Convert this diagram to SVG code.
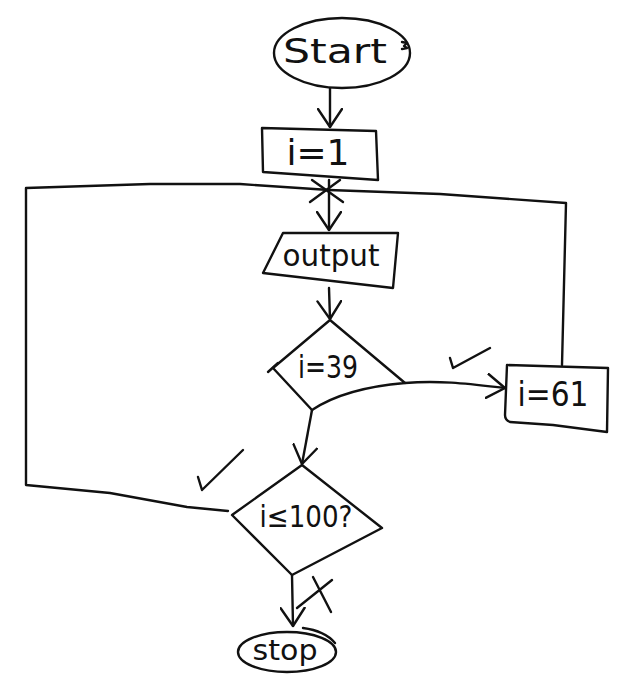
<svg xmlns="http://www.w3.org/2000/svg" width="632" height="696" viewBox="0 0 632 696">
<style>
.s{fill:none;stroke:#111;stroke-width:2.4;stroke-linecap:round;stroke-linejoin:round}
.n{fill:#fff;stroke:#111;stroke-width:2.4;stroke-linejoin:round}
.t{font-family:"DejaVu Sans","Liberation Sans",sans-serif;font-weight:normal;fill:#111;text-anchor:middle;dominant-baseline:central}
</style>
<defs>
<marker id="arr" markerUnits="userSpaceOnUse" viewBox="0 0 20 26" refX="19" refY="13" markerWidth="20" markerHeight="26" orient="auto">
<path d="M1,1 L19,13 L1,25" fill="none" stroke="#111" stroke-width="2.4" stroke-linecap="round" stroke-linejoin="round"/>
</marker>
</defs>
<rect width="632" height="696" fill="#fff"/>
<g id="connectors">
<path class="s" d="M330,88 L330,127" marker-end="url(#arr)"/>
<path class="s" d="M329,180 L329,230" marker-end="url(#arr)"/>
<path class="s" d="M329,288 L330,319" marker-end="url(#arr)"/>
<path class="s" d="M405,383 C440,380 470,384 505,388" marker-end="url(#arr)"/>
<path class="s" d="M312,410 L302,464" marker-end="url(#arr)"/>
<path class="s" d="M292,575 L293,626" marker-end="url(#arr)"/>
<path class="s" d="M562,365 L566,203 L440,194 L329,190"/>
<path class="s" d="M228,511 L187,507 L110,493 L26,485 L26,188 L150,184 L240,184 L329,190"/>
<path class="s" d="M312,180 L343,202 M310,202 L340,180"/>
<path class="s" d="M268,372 L278,363"/>
<path class="s" d="M450,358 L453,368 L490,348"/>
<path class="s" d="M198,477 L202,490 L243,450"/>
<path class="s" d="M313,577 L331,612 M297,608 L332,580"/>
</g>
<g id="start">
<ellipse class="n" cx="342" cy="53" rx="68" ry="35"/>
<path class="s" d="M402,42 L407,43 L404,46 L407,48 L402,49" stroke-width="1.4"/>
<text class="t" x="335" y="51" font-size="34" textLength="104" lengthAdjust="spacingAndGlyphs">Start</text>
</g>
<g id="init">
<polygon class="n" points="262,128 376,131 378,180 263,172"/>
<text class="t" x="318" y="152" font-size="36" textLength="63" lengthAdjust="spacingAndGlyphs">i=1</text>
</g>
<g id="output">
<polygon class="n" points="283,233 398,233 393,288 263,273"/>
<text class="t" x="331" y="255" font-size="30" textLength="97" lengthAdjust="spacingAndGlyphs">output</text>
</g>
<g id="check39">
<path class="n" d="M330,320 L405,383 Q345,388 312,410 L273,368 Z"/>
<text class="t" x="328" y="367" font-size="32" textLength="60" lengthAdjust="spacingAndGlyphs">i=39</text>
</g>
<g id="set61">
<path class="n" d="M507,365 L608,368 L607,432 L553,425 L510,422 Q505,420 505,415 Z"/>
<text class="t" x="553" y="394" font-size="34" textLength="71" lengthAdjust="spacingAndGlyphs">i=61</text>
</g>
<g id="check100">
<polygon class="n" points="302,465 382,528 292,575 232,515"/>
<text class="t" x="306" y="516" font-size="30" textLength="93" lengthAdjust="spacingAndGlyphs">i≤100?</text>
</g>
<g id="stop">
<ellipse class="n" cx="287" cy="652" rx="49" ry="20"/>
<path class="s" d="M303,628 Q325,631 335,643"/>
<text class="t" x="285" y="650" font-size="28" textLength="65" lengthAdjust="spacingAndGlyphs">stop</text>
</g>
</svg>
